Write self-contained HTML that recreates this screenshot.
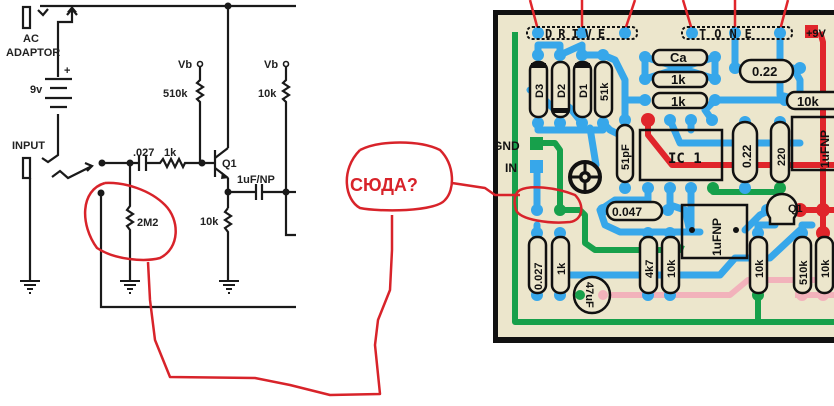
<!DOCTYPE html>
<html><head><meta charset="utf-8"><style>
html,body{margin:0;padding:0;background:#fff;width:834px;height:406px;overflow:hidden}
svg{display:block}
text{font-family:"Liberation Sans","DejaVu Sans",sans-serif}
.s{font-family:"Liberation Sans",sans-serif;font-weight:bold;font-size:11px;fill:#222}
.c{font-family:"DejaVu Sans Mono","Liberation Mono",monospace;font-weight:bold;fill:#111}
</style></head><body>
<svg width="834" height="406" viewBox="0 0 834 406" xmlns="http://www.w3.org/2000/svg">
<!-- ===== schematic ===== -->
<g stroke="#1a1a1a" stroke-width="2.2" fill="none">
<line x1="40" y1="6" x2="296" y2="6"/>
<polyline points="38,10 43,15 48,9"/>
<polyline points="58,77 58,22 72,22 72,10"/>
<polyline points="67,15 72,9 77,15"/>
<rect x="23" y="7" width="7" height="21"/>
<line x1="45" y1="79" x2="72" y2="79"/><line x1="50" y1="88" x2="67" y2="88"/>
<line x1="45" y1="98" x2="72" y2="98"/><line x1="50" y1="107" x2="67" y2="107"/>
<polyline points="58,114 58,155 48,162 42,158"/>
<rect x="23" y="158" width="7" height="20"/>
<line x1="30" y1="178" x2="30" y2="282"/>
<polyline points="52,177 60,171 68,178 92,166"/>
<polyline points="85,163 92,166 87,171"/>
<line x1="102" y1="163" x2="138" y2="163"/>
<line x1="139" y1="155" x2="139" y2="171"/><line x1="146" y1="155" x2="146" y2="171"/>
<polyline points="146,163 160,163 163,159 167,167 171,159 175,167 179,159 183,167 185,163 215,163"/>
<line x1="215" y1="150" x2="215" y2="177"/>
<line x1="215" y1="158" x2="228" y2="148"/><line x1="228" y1="148" x2="228" y2="6"/>
<line x1="215" y1="168" x2="228" y2="178"/><line x1="228" y1="178" x2="228" y2="208"/>
<polyline points="200,67 200,80 197,83 203,87 197,91 203,95 197,99 200,102 200,163"/>
<polyline points="286,67 286,80 283,83 289,87 283,91 289,95 283,99 286,102 286,235 296,235"/>
<line x1="228" y1="192" x2="255" y2="192"/>
<line x1="256" y1="184" x2="256" y2="200"/><line x1="262" y1="184" x2="262" y2="200"/>
<line x1="262" y1="192" x2="286" y2="192"/><line x1="286" y1="192" x2="296" y2="192"/>
<polyline points="228,208 225,212 231,216 225,220 231,224 225,228 228,232 228,282"/>
<polyline points="130,163 130,206 127,210 133,214 127,218 133,222 127,226 130,230 130,282"/>
<polyline points="101,193 101,307 296,307"/>
</g>
<polygon points="222,172 229,178 221,179" fill="#1a1a1a"/>
<polygon points="67,12 72,6 77,12" fill="#1a1a1a"/>
<g fill="#1a1a1a">
<circle cx="228" cy="6" r="3.5"/><circle cx="102" cy="163" r="3.5"/><circle cx="130" cy="163" r="3.5"/>
<circle cx="202" cy="163" r="3.5"/><circle cx="228" cy="192" r="3.5"/><circle cx="286" cy="192" r="3.5"/><circle cx="101" cy="193" r="3.5"/>
</g>
<circle cx="200" cy="64" r="2.5" fill="#fff" stroke="#1a1a1a" stroke-width="1.6"/>
<circle cx="286" cy="64" r="2.5" fill="#fff" stroke="#1a1a1a" stroke-width="1.6"/>
<g stroke="#1a1a1a" stroke-width="2">
<line x1="20" y1="281" x2="40" y2="281"/><line x1="24" y1="285" x2="36" y2="285"/><line x1="27" y1="289" x2="33" y2="289"/><line x1="29" y1="293" x2="31" y2="293"/>
<line x1="120" y1="281" x2="140" y2="281"/><line x1="124" y1="285" x2="136" y2="285"/><line x1="127" y1="289" x2="133" y2="289"/><line x1="129" y1="293" x2="131" y2="293"/>
<line x1="219" y1="281" x2="239" y2="281"/><line x1="223" y1="285" x2="235" y2="285"/><line x1="226" y1="289" x2="232" y2="289"/><line x1="228" y1="293" x2="230" y2="293"/>
</g>
<text class="s" x="23" y="42">AC</text>
<text class="s" x="6" y="56">ADAPTOR</text>
<text class="s" x="30" y="93">9v</text>
<text class="s" x="64" y="74">+</text>
<text class="s" x="12" y="149">INPUT</text>
<text class="s" x="133" y="156">.027</text>
<text class="s" x="164" y="156">1k</text>
<text class="s" x="178" y="68">Vb</text>
<text class="s" x="163" y="97">510k</text>
<text class="s" x="264" y="68">Vb</text>
<text class="s" x="258" y="97">10k</text>
<text class="s" x="222" y="167">Q1</text>
<text class="s" x="237" y="183">1uF/NP</text>
<text class="s" x="200" y="225">10k</text>
<text class="s" x="137" y="226">2M2</text>

<!-- ===== PCB ===== -->
<rect x="493" y="10" width="345" height="333" fill="#111"/>
<rect x="498" y="15" width="340" height="322" fill="#ece6cc"/>
<!-- blue traces -->
<g stroke="#37a7ea" stroke-width="7" fill="none" stroke-linecap="round" stroke-linejoin="round">
<polyline points="538,55 538,45 560,45 560,55 582,45 582,55 603,55"/>
<polyline points="538,123 538,130 603,130 603,123"/>
<polyline points="560,123 560,115 545,100 530,90"/>
<polyline points="582,123 570,108 560,100"/>
<polyline points="603,55 615,60 625,80 625,120 625,150"/>
<polyline points="603,123 610,130 620,135"/>
<polyline points="625,100 645,100"/>
<polyline points="645,57 645,79 715,57 715,79 645,57"/>
<polyline points="715,100 800,100"/>
<polyline points="735,38 735,68 745,68"/>
<polyline points="780,38 780,95 800,100"/>
<polyline points="793,68 800,80 800,100"/>
<polyline points="670,120 680,143 800,143"/>
<polyline points="691,120 691,130"/><polyline points="712,120 705,110 715,100"/>
<polyline points="648,188 648,200 615,200 600,210 605,225 620,232 700,232"/>
<polyline points="670,188 670,205 685,210 690,232"/>
<polyline points="691,188 691,230"/>
<polyline points="537,167 537,210"/>
<polyline points="537,233 537,225"/>
<polyline points="560,233 560,265 565,275 720,275 735,258 770,258 800,230"/>
<polyline points="648,232 648,237"/><polyline points="670,232 670,237"/>
<polyline points="758,237 758,225 775,225"/>
<polyline points="745,230 760,215 770,210"/>
<polyline points="802,237 802,225 812,225"/>
<polyline points="590,128 596,165"/>
</g>
<!-- green traces -->
<g stroke="#17a04b" stroke-width="6" fill="none" stroke-linejoin="round">
<polyline points="515,32 515,322 834,322"/>
<polyline points="537,143 555,143 560,150 560,210 580,210"/>
<polyline points="580,210 585,215 585,243 595,250 680,250 682,245"/>
<polyline points="713,188 713,192 780,192"/>
<polyline points="758,295 758,322"/>
<polyline points="580,295 585,293"/>
</g>
<!-- pink -->
<g stroke="#f2b2bb" stroke-width="6" fill="none" stroke-linejoin="round">
<polyline points="600,295 730,295 748,280 834,280"/>
<polyline points="795,295 834,295"/>
</g>
<!-- red -->
<g stroke="#e0252b" stroke-width="6" fill="none" stroke-linejoin="round">
<polyline points="648,120 648,135 672,165 834,165"/>
<polyline points="820,32 823,42 823,230"/>
<polyline points="795,210 834,210"/>
</g>
<rect x="805" y="25" width="13" height="13" fill="#e0252b"/>
<g stroke="#e0252b" stroke-width="2.5" fill="none">
<line x1="530" y1="0" x2="538" y2="30"/><line x1="582" y1="0" x2="582" y2="30"/><line x1="635" y1="0" x2="625" y2="30"/>
<line x1="683" y1="0" x2="692" y2="30"/><line x1="735" y1="0" x2="735" y2="30"/><line x1="788" y1="0" x2="780" y2="30"/>
</g>
<!-- pads blue -->
<g fill="#37a7ea">
<circle cx="538" cy="33" r="6"/><circle cx="582" cy="33" r="6"/><circle cx="625" cy="33" r="6"/>
<circle cx="692" cy="33" r="6"/><circle cx="735" cy="33" r="6"/><circle cx="780" cy="33" r="6"/>
<circle cx="538" cy="55" r="6"/><circle cx="560" cy="55" r="6"/><circle cx="582" cy="55" r="6"/><circle cx="603" cy="55" r="6"/>
<circle cx="538" cy="123" r="6"/><circle cx="560" cy="123" r="6"/><circle cx="582" cy="123" r="6"/><circle cx="603" cy="123" r="6"/>
<circle cx="645" cy="57" r="6"/><circle cx="715" cy="57" r="6"/><circle cx="645" cy="79" r="6"/><circle cx="715" cy="79" r="6"/>
<circle cx="645" cy="100" r="6"/><circle cx="715" cy="100" r="6"/>
<circle cx="735" cy="68" r="6"/><circle cx="800" cy="68" r="6"/><circle cx="785" cy="100" r="6"/>
<circle cx="625" cy="120" r="6"/><circle cx="625" cy="188" r="6"/>
<circle cx="670" cy="120" r="6"/><circle cx="691" cy="120" r="6"/><circle cx="712" cy="120" r="6"/>
<circle cx="648" cy="188" r="6"/><circle cx="670" cy="188" r="6"/><circle cx="691" cy="188" r="6"/>
<circle cx="745" cy="122" r="6"/><circle cx="780" cy="122" r="6"/><circle cx="745" cy="188" r="6"/>
<circle cx="537" cy="210" r="6"/><circle cx="603" cy="210" r="6"/><circle cx="668" cy="210" r="6"/>
<circle cx="537" cy="233" r="6"/><circle cx="560" cy="233" r="6"/><circle cx="648" cy="233" r="6"/><circle cx="670" cy="233" r="6"/>
<circle cx="758" cy="233" r="6"/><circle cx="802" cy="233" r="6"/>
<circle cx="537" cy="295" r="6"/><circle cx="560" cy="295" r="6"/><circle cx="648" cy="295" r="6"/><circle cx="670" cy="295" r="6"/>
<circle cx="767" cy="210" r="6"/>
</g>
<g fill="#17a04b"><circle cx="560" cy="210" r="6"/><circle cx="713" cy="188" r="6"/><circle cx="758" cy="295" r="6"/><circle cx="780" cy="188" r="6"/><circle cx="580" cy="295" r="6"/></g>
<g fill="#e0252b"><circle cx="648" cy="120" r="7"/><circle cx="800" cy="210" r="7"/><circle cx="823" cy="210" r="7"/><circle cx="823" cy="233" r="7"/></g>
<g fill="#f2b2bb"><circle cx="802" cy="295" r="6"/><circle cx="823" cy="295" r="6"/><circle cx="600" cy="295" r="5"/></g>
<rect x="530" y="137" width="13" height="13" fill="#17a04b"/>
<rect x="530" y="160" width="13" height="13" fill="#37a7ea"/>
<!-- DRIVE / TONE boxes -->
<rect x="527" y="27" width="110" height="12" rx="5" fill="none" stroke="#111" stroke-width="2" stroke-dasharray="3,2"/>
<rect x="682" y="27" width="110" height="12" rx="5" fill="none" stroke="#111" stroke-width="2" stroke-dasharray="3,2"/>
<text class="c" x="545" y="38" font-size="12" letter-spacing="6">DRIVE</text>
<text class="c" x="699" y="38" font-size="12" letter-spacing="8">TONE</text>
<text x="806" y="37" font-size="11" font-weight="bold" fill="#111">+9V</text>
<!-- vertical components -->
<g stroke="#111" stroke-width="2.5" fill="#ece6cc">
<rect x="530" y="62" width="17" height="55" rx="8"/><rect x="552" y="62" width="17" height="55" rx="8"/>
<rect x="574" y="62" width="17" height="55" rx="8"/><rect x="595" y="62" width="17" height="55" rx="8"/>
<rect x="617" y="125" width="16" height="57" rx="8"/>
<rect x="733" y="122" width="24" height="60" rx="12"/><rect x="771" y="122" width="18" height="60" rx="9"/>
<rect x="529" y="237" width="17" height="56" rx="8"/><rect x="552" y="237" width="17" height="56" rx="8"/>
<rect x="640" y="237" width="17" height="56" rx="8"/><rect x="662" y="237" width="17" height="56" rx="8"/>
<rect x="750" y="237" width="17" height="56" rx="8"/><rect x="794" y="237" width="17" height="56" rx="8"/><rect x="816" y="237" width="17" height="56" rx="8"/>
<rect x="653" y="50" width="54" height="15" rx="7"/><rect x="653" y="72" width="54" height="15" rx="7"/><rect x="653" y="93" width="54" height="15" rx="7"/>
<rect x="740" y="60" width="53" height="22" rx="11"/><rect x="787" y="92" width="55" height="17" rx="8"/>
<rect x="607" y="202" width="55" height="18" rx="9"/>
</g>
<g fill="#111"><rect x="531" y="63" width="15" height="5"/><rect x="553" y="108" width="15" height="5"/><rect x="575" y="63" width="15" height="5"/></g>
<!-- IC & boxes -->
<rect x="640" y="130" width="82" height="50" fill="none" stroke="#111" stroke-width="2.5"/>
<text class="c" x="668" y="163" font-size="14">IC 1</text>
<rect x="682" y="205" width="65" height="53" fill="none" stroke="#111" stroke-width="2.5"/>
<rect x="792" y="117" width="45" height="53" fill="none" stroke="#111" stroke-width="2.5"/>
<circle cx="692" cy="230" r="3" fill="#111"/><circle cx="736" cy="230" r="3" fill="#111"/>
<circle cx="585" cy="177" r="15" fill="none" stroke="#111" stroke-width="4"/>
<circle cx="585" cy="177" r="6" fill="#111"/>
<line x1="570" y1="177" x2="600" y2="177" stroke="#111" stroke-width="3"/><line x1="585" y1="162" x2="585" y2="192" stroke="#111" stroke-width="3"/>
<circle cx="585" cy="177" r="2.5" fill="#ece6cc"/>
<path d="M770,218 A15,15 0 1 1 794,218 L794,224 L770,224 Z" fill="#ece6cc" stroke="#111" stroke-width="2.5"/>
<circle cx="592" cy="295" r="18" fill="#ece6cc" stroke="#111" stroke-width="2.5"/>
<circle cx="580" cy="295" r="5" fill="#17a04b"/><circle cx="603" cy="295" r="5" fill="#f2b2bb"/>
<!-- component labels -->
<g class="c" font-size="11">
<text transform="translate(543,98) rotate(-90)">D3</text>
<text transform="translate(565,98) rotate(-90)">D2</text>
<text transform="translate(587,98) rotate(-90)">D1</text>
<text transform="translate(608,101) rotate(-90)">51k</text>
<text transform="translate(629,170) rotate(-90)">51pF</text>
<text transform="translate(751,168) rotate(-90)" font-size="12">0.22</text>
<text transform="translate(785,166) rotate(-90)">220</text>
<text transform="translate(829,168) rotate(-90)" font-size="12">1uFNP</text>
<text transform="translate(721,256) rotate(-90)" font-size="12">1uFNP</text>
<text transform="translate(542,290) rotate(-90)">0.027</text>
<text transform="translate(565,275) rotate(-90)">1k</text>
<text transform="translate(653,278) rotate(-90)">4k7</text>
<text transform="translate(675,278) rotate(-90)">10k</text>
<text transform="translate(763,278) rotate(-90)">10k</text>
<text transform="translate(807,285) rotate(-90)">510k</text>
<text transform="translate(829,278) rotate(-90)">10k</text>
<text transform="translate(586,282) rotate(90)">47uF</text>
<text x="670" y="62" font-size="13">Ca</text>
<text x="671" y="84" font-size="13">1k</text>
<text x="671" y="106" font-size="13">1k</text>
<text x="752" y="76" font-size="13">0.22</text>
<text x="797" y="106" font-size="13">10k</text>
<text x="612" y="216" font-size="12">0.047</text>
<text x="788" y="212" font-size="11">Q1</text>
</g>
<text x="493" y="150" font-size="12" font-weight="bold" fill="#111">GND</text>
<text x="505" y="172" font-size="12" font-weight="bold" fill="#111">IN</text>

<!-- ===== red annotations ===== -->
<g stroke="#d8232a" stroke-width="2.5" fill="none" stroke-linejoin="round">
<path d="M105,183 C80,190 80,225 97,248 C115,260 145,262 160,258 C180,248 180,220 165,205 C150,190 125,182 105,183"/>
<polyline points="148,262 150,300 155,340 170,377 255,378 290,385 330,395 380,394 375,345 378,320 390,290 392,250 392,215"/>
<path d="M360,150 C380,140 420,140 440,150 C455,165 455,190 445,200 C435,212 380,212 360,208 C345,200 340,170 360,150"/>
<polyline points="452,183 485,188 495,195 520,195"/>
<path d="M520,190 C530,185 555,187 575,195 C585,205 583,220 570,222 C550,224 520,220 516,210 C513,200 515,193 520,190"/>
</g>
<text x="350" y="191" font-size="18" font-weight="bold" fill="#d8232a">СЮДА?</text>
</svg>
</body></html>
